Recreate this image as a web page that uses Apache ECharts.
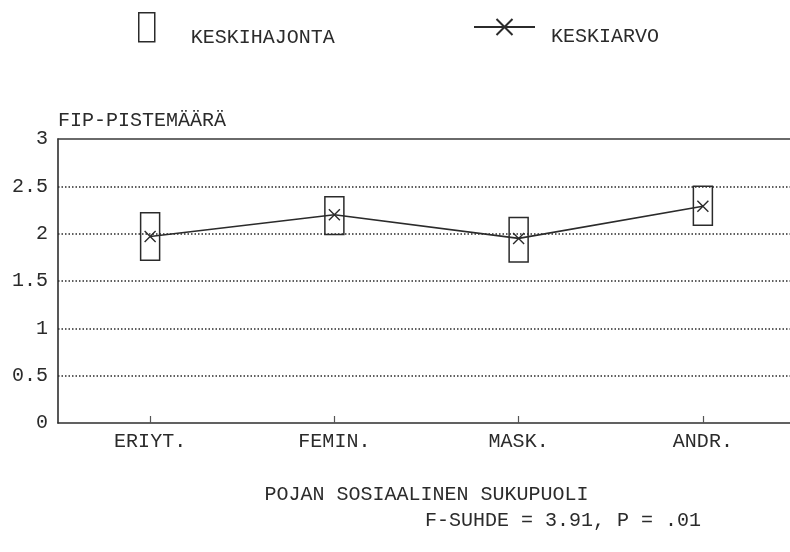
<!DOCTYPE html>
<html>
<head>
<meta charset="utf-8">
<script src="https://cdn.jsdelivr.net/npm/echarts@6/dist/echarts.min.js"></script>
<style>
html,body{margin:0;padding:0;background:#fff;}
#chart{width:790px;height:552px;}
</style>
</head>
<body>
<div id="chart"></div>
<script>
// Data
var categories = ['ERIYT.', 'FEMIN.', 'MASK.', 'ANDR.'];
var means = [1.97, 2.20, 1.95, 2.29];          // KESKIARVO
var boxLow = [1.72, 1.99, 1.70, 2.09];         // KESKIHAJONTA lower edge
var boxHigh = [2.22, 2.39, 2.17, 2.50];        // KESKIHAJONTA upper edge
var yTicks = [0, 0.5, 1, 1.5, 2, 2.5, 3];

var FONT = '"Liberation Mono", "DejaVu Sans Mono", monospace';
var INK = '#2b2b2b';
var FS = 20;

var boxData = categories.map(function (c, i) { return [i, boxLow[i], boxHigh[i]]; });

var chart = echarts.init(document.getElementById('chart'), null, {renderer: 'canvas'});
chart.setOption({
  backgroundColor: '#ffffff',
  animation: false,
  textStyle: {fontFamily: FONT, color: INK},
  grid: {
    left: 58, top: 139, width: 737, height: 284,
    outerBoundsMode: 'none',
    containLabel: false,
    show: false
  },
  legend: [
    {
      data: ['KESKIHAJONTA'],
      left: 133, top: 7,
      itemWidth: 16, itemHeight: 29,
      icon: 'rect',
      itemStyle: {color: 'transparent', borderColor: INK, borderWidth: 1.5},
      formatter: '{t|{name}}',
      textStyle: {fontFamily: FONT, fontSize: FS, color: INK,
        rich: {t: {fontFamily: FONT, fontSize: FS, color: INK, padding: [20, 0, 0, 31]}}},
      selectedMode: false
    },
    {
      data: ['KESKIARVO'],
      left: 468, top: 13,
      itemWidth: 61, itemHeight: 20,
      formatter: '{t|{name}}',
      textStyle: {fontFamily: FONT, fontSize: FS, color: INK,
        rich: {t: {fontFamily: FONT, fontSize: FS, color: INK, padding: [20, 0, 0, 11]}}},
      selectedMode: false
    }
  ],
  xAxis: [
    {
      type: 'category',
      data: categories,
      boundaryGap: true,
      axisLine: {show: true, lineStyle: {color: '#2e2e2e', width: 1.6}},
      axisTick: {show: true, inside: true, alignWithLabel: true, length: 7, lineStyle: {color: '#555', width: 1.2}},
      axisLabel: {fontFamily: FONT, fontSize: FS, color: INK, margin: 9},
      splitLine: {show: false},
      name: 'POJAN SOSIAALINEN SUKUPUOLI',
      nameLocation: 'middle',
      nameGap: 62,
      nameTextStyle: {fontFamily: FONT, fontSize: FS, color: INK}
    },
    {
      type: 'category',
      data: categories,
      position: 'top',
      boundaryGap: true,
      axisLine: {show: true, lineStyle: {color: '#3a3a3a', width: 1.5}},
      axisTick: {show: false},
      axisLabel: {show: false},
      splitLine: {show: false}
    }
  ],
  yAxis: {
    type: 'value',
    min: yTicks[0], max: yTicks[yTicks.length - 1], interval: 0.5,
    axisLine: {show: true, lineStyle: {color: '#2e2e2e', width: 1.6}},
    axisTick: {show: false},
    axisLabel: {fontFamily: FONT, fontSize: FS, color: INK, margin: 10},
    splitLine: {
      show: true, showMinLine: false, showMaxLine: false,
      lineStyle: {color: '#2a2a2a', width: 1.5, type: [1.5, 2]}
    },
    name: 'FIP-PISTEMÄÄRÄ',
    nameLocation: 'end',
    nameGap: 18,
    nameTextStyle: {fontFamily: FONT, fontSize: FS, color: INK, align: 'left', verticalAlign: 'middle'}
  },
  graphic: [
    {
      type: 'text', left: 425, top: 511,
      style: {text: 'F-SUHDE = 3.91, P = .01', fontFamily: FONT, fontSize: FS, fill: INK}
    }
  ],
  series: [
    {
      name: 'KESKIHAJONTA',
      type: 'custom',
      data: boxData,
      encode: {x: 0, y: [1, 2]},
      itemStyle: {color: 'transparent', borderColor: INK, borderWidth: 1.5},
      renderItem: function (params, api) {
        var x = api.value(0);
        var lo = api.coord([x, api.value(1)]);
        var hi = api.coord([x, api.value(2)]);
        var w = 19;
        return {
          type: 'rect',
          shape: {x: lo[0] - w / 2, y: hi[1], width: w, height: lo[1] - hi[1]},
          style: {fill: 'none', stroke: INK, lineWidth: 1.5}
        };
      },
      z: 3
    },
    {
      name: 'KESKIARVO',
      type: 'line',
      data: means,
      symbol: 'path://M0,0L10,10M10,0L0,10',
      symbolSize: 11,
      showSymbol: true,
      lineStyle: {color: INK, width: 1.6},
      itemStyle: {color: INK, borderColor: INK, borderWidth: 1.4},
      z: 4
    }
  ]
});
</script>
</body>
</html>
